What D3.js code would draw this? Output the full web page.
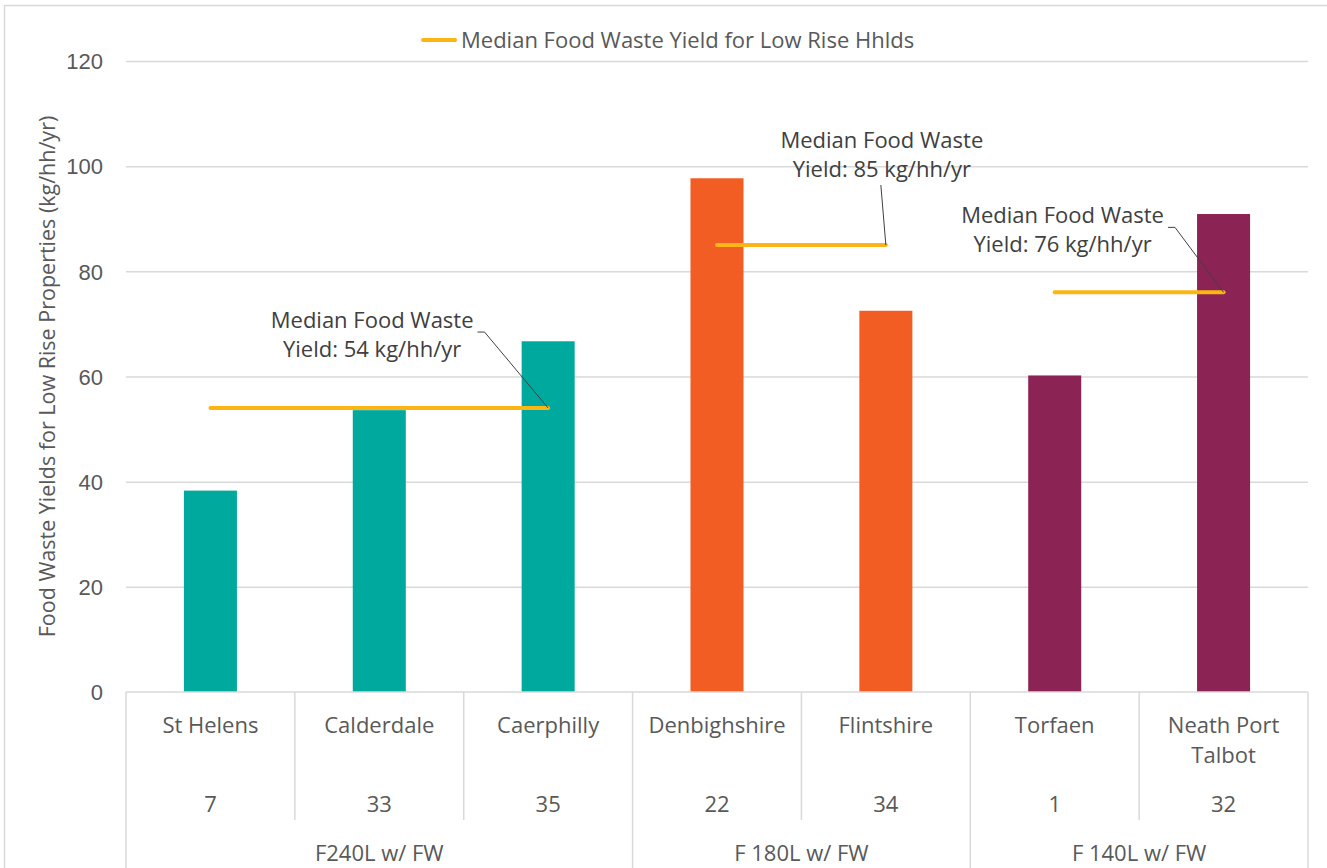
<!DOCTYPE html>
<html>
<head>
<meta charset="utf-8">
<script src="https://cdn.jsdelivr.net/npm/d3@7"></script>
<style>
  html, body { margin: 0; padding: 0; background: #fff; }
  svg { display: block; font-family: "Open Sans", "Noto Sans", sans-serif; }
</style>
</head>
<body>
<svg id="chart" width="1327" height="868"></svg>
<script>
// Food waste yields by authority, grouped by collection scheme
const categories = ["St Helens", "Calderdale", "Caerphilly", "Denbighshire", "Flintshire", "Torfaen", "Neath Port Talbot"];
const yields = [38.3, 53.6, 66.7, 97.7, 72.5, 60.2, 90.9];
const counts = ["7", "33", "35", "22", "34", "1", "32"];
const groups = ["F240L w/ FW", "F 180L w/ FW", "F 140L w/ FW"];
const groupOf = [0, 0, 0, 1, 1, 2, 2];
const medians = [54, 85, 76];
const yTicks = [0, 20, 40, 60, 80, 100, 120];
const groupColors = ["#00A99D", "#F15D22", "#8C2355"];
const legendLabel = "Median Food Waste Yield for Low Rise Hhlds";
const yTitle = "Food Waste Yields for Low Rise Properties (kg/hh/yr)";

const svg = d3.select("#chart");
const margin = { left: 126, right: 19, top: 61, bottom: 176 };
const W = 1327, H = 868;
const plotW = W - margin.left - margin.right;
const plotH = H - margin.top - margin.bottom;

const x = d3.scaleBand().domain(categories).range([margin.left, margin.left + plotW]).paddingInner(0).paddingOuter(0);
const y = d3.scaleLinear().domain([0, 120]).range([margin.top + plotH, margin.top]);
const barW = x.bandwidth() * 0.314;

const textCol = "#595959";
const gridCol = "#d9d9d9";
const fs = "22px";

// outer chart frame
svg.append("rect").attr("x", 4.5).attr("y", 5.5).attr("width", W + 10).attr("height", H + 10)
  .attr("fill", "none").attr("stroke", "#d9d9d9").attr("stroke-width", 1.5);

// gridlines and y tick labels
const yAxis = d3.axisLeft(y).tickValues(yTicks).tickSize(-plotW).tickPadding(23);
const gy = svg.append("g").attr("transform", `translate(${margin.left},0)`).call(yAxis);
gy.select(".domain").remove();
gy.selectAll(".tick line").attr("stroke", gridCol).attr("stroke-width", 1.5)
  .filter(d => d === 0).remove();
gy.selectAll(".tick text").attr("fill", textCol).style("font-size", fs).attr("dy", "0.35em");

// y axis title
svg.append("text")
  .attr("transform", `translate(55,${margin.top + plotH / 2}) rotate(-90)`)
  .attr("text-anchor", "middle").attr("fill", textCol).style("font-size", "21.5px")
  .text(yTitle);

// bars
svg.append("g").selectAll("rect").data(categories).join("rect")
  .attr("x", d => x(d) + (x.bandwidth() - barW) / 2)
  .attr("width", barW)
  .attr("y", (d, i) => y(yields[i]))
  .attr("height", (d, i) => y(0) - y(yields[i]))
  .attr("fill", (d, i) => groupColors[groupOf[i]]);

// multi-level category axis
const axisY = y(0);
const ax = svg.append("g");
ax.append("line").attr("x1", margin.left).attr("x2", margin.left + plotW)
  .attr("y1", axisY).attr("y2", axisY).attr("stroke", gridCol).attr("stroke-width", 1.5);

// dividers: inner ones stop above the group row, group boundaries run to the bottom
const boundaries = d3.range(categories.length + 1);
boundaries.forEach(k => {
  const xx = k < categories.length ? x(categories[k]) : margin.left + plotW;
  const isGroupEdge = k === 0 || k === categories.length || groupOf[k] !== groupOf[k - 1];
  ax.append("line").attr("x1", xx).attr("x2", xx)
    .attr("y1", axisY).attr("y2", isGroupEdge ? H : 820)
    .attr("stroke", gridCol).attr("stroke-width", 1.5);
});

// category names (wrapped) and counts
categories.forEach((c, i) => {
  const cx = x(c) + x.bandwidth() / 2;
  const t = ax.append("text").attr("x", cx).attr("y", 733).attr("text-anchor", "middle")
    .attr("fill", textCol).style("font-size", fs);
  const words = c.split(" ");
  let line = [], lines = [];
  const probe = ax.append("text").style("font-size", fs);
  words.forEach(w => {
    const test = line.concat(w).join(" ");
    probe.text(test);
    if (probe.node().getComputedTextLength() > 150 && line.length) {
      lines.push(line.join(" ")); line = [w];
    } else line.push(w);
  });
  lines.push(line.join(" "));
  probe.remove();
  lines.forEach((l, j) => t.append("tspan").attr("x", cx).attr("dy", j === 0 ? 0 : 30).text(l));
  ax.append("text").attr("x", cx).attr("y", 812).attr("text-anchor", "middle")
    .attr("fill", textCol).style("font-size", fs).text(counts[i]);
});

// group names
groups.forEach((g, gi) => {
  const members = categories.filter((c, i) => groupOf[i] === gi);
  const x0 = x(members[0]);
  const x1 = x(members[members.length - 1]) + x.bandwidth();
  ax.append("text").attr("x", (x0 + x1) / 2).attr("y", 861).attr("text-anchor", "middle")
    .attr("fill", textCol).style("font-size", fs).text(g);
});

// median lines per group, from first to last bar centre
const medianCol = "#FDB515";
const ends = [];
groups.forEach((g, gi) => {
  const members = categories.filter((c, i) => groupOf[i] === gi);
  const xa = x(members[0]) + x.bandwidth() / 2;
  const xb = x(members[members.length - 1]) + x.bandwidth() / 2;
  svg.append("line").attr("x1", xa).attr("x2", xb).attr("y1", y(medians[gi])).attr("y2", y(medians[gi]))
    .attr("stroke", medianCol).attr("stroke-width", 4).attr("stroke-linecap", "round");
  ends.push([xb, y(medians[gi])]);
});

// median annotations with leader lines
const annLayout = [
  { dx: -176, dy: -80, attach: "right" },
  { dx: -4, dy: -97, attach: "bottom" },
  { dx: -161, dy: -69, attach: "right" }
];
const annCol = "#404040";
medians.forEach((m, gi) => {
  const [ex, ey] = ends[gi];
  const L = annLayout[gi];
  const cx = ex + L.dx, by = ey + L.dy;
  const t = svg.append("text").attr("text-anchor", "middle").attr("fill", annCol).style("font-size", fs);
  t.append("tspan").attr("x", cx).attr("y", by).text("Median Food Waste");
  t.append("tspan").attr("x", cx).attr("y", by + 29).text(`Yield: ${m} kg/hh/yr`);
  const bb = t.node().getBBox();
  let pts;
  if (L.attach === "right") {
    const sx = bb.x + bb.width + 4, sy = by + 4;
    pts = [[sx, sy], [sx + 7, sy], [ex, ey]];
  } else {
    pts = [[cx - 1, bb.y + bb.height + 2], [ex, ey]];
  }
  svg.append("path").attr("d", d3.line()(pts)).attr("fill", "none")
    .attr("stroke", annCol).attr("stroke-width", 1);
});

// legend
const lg = svg.append("g");
lg.append("line").attr("x1", 423).attr("x2", 455).attr("y1", 40).attr("y2", 40)
  .attr("stroke", medianCol).attr("stroke-width", 4).attr("stroke-linecap", "round");
lg.append("text").attr("x", 461).attr("y", 48).attr("fill", textCol).style("font-size", fs).text(legendLabel);
</script>
</body>
</html>
